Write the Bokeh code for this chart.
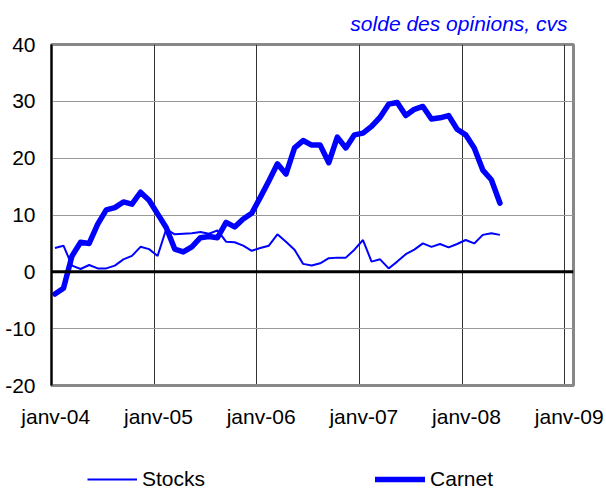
from bokeh.plotting import figure
from bokeh.models import FixedTicker, Span, Legend, LegendItem, ColumnDataSource
from bokeh.layouts import column
from bokeh.embed import file_html
from bokeh.resources import INLINE

# Monthly data, janv-04 (month 0) to mai-08 (month 52)
months = list(range(53))
carnet = [-3.9, -2.9, 2.8, 5.2, 5.0, 8.4, 10.9, 11.3, 12.3, 11.9, 14.0, 12.6,
          10.2, 7.8, 4.0, 3.5, 4.4, 6.0, 6.2, 6.0, 8.7, 7.9, 9.3, 10.3,
          13.1, 16.0, 19.0, 17.2, 21.8, 23.1, 22.3, 22.3, 19.2, 23.7, 21.8, 24.1,
          24.4, 25.6, 27.2, 29.5, 29.8, 27.5, 28.6, 29.1, 26.9, 27.1, 27.5, 25.1,
          24.1, 21.8, 17.9, 16.2, 12.1]
stocks = [4.2, 4.6, 1.1, 0.5, 1.2, 0.6, 0.6, 1.1, 2.2, 2.8, 4.4, 4.0,
          2.8, 7.5, 6.6, 6.7, 6.8, 7.0, 6.7, 7.3, 5.3, 5.2, 4.6, 3.7,
          4.2, 4.6, 6.6, 5.3, 3.9, 1.4, 1.1, 1.5, 2.4, 2.5, 2.5, 3.9,
          5.6, 1.8, 2.2, 0.6, 1.8, 3.1, 3.9, 5.0, 4.4, 4.9, 4.3, 4.9,
          5.6, 5.0, 6.5, 6.8, 6.5]
year_months = [0, 12, 24, 36, 48, 60]
year_labels = ["janv-04", "janv-05", "janv-06", "janv-07", "janv-08", "janv-09"]
y_ticks = [-20, -10, 0, 10, 20, 30, 40]
y_labels = ["-20", "-10", "0", "10", "20", "30", "40"]
series_names = ["Stocks", "Carnet"]

FONT = "Liberation Sans"
BLUE = "#0000FF"
FS = "21px"

xs = [m + 0.4 for m in months]
src = ColumnDataSource(dict(x=xs, carnet=carnet, stocks=stocks))

p = figure(width=606, height=452, output_backend="svg", toolbar_location=None,
           x_range=(0, 61), y_range=(-20, 40),
           min_border_left=51, min_border_right=33, min_border_top=44,
           min_border_bottom=67)

p.title.text = "solde des opinions, cvs"
p.title.align = "right"
p.title.text_color = BLUE
p.title.text_font = FONT
p.title.text_font_style = "italic"
p.title.text_font_size = FS
p.title.offset = 6
p.title.standoff = 19

p.outline_line_color = "#888888"
p.outline_line_width = 3
p.background_fill_color = "white"
p.border_fill_color = "white"

# axes
p.yaxis.ticker = FixedTicker(ticks=y_ticks)
p.yaxis.major_label_overrides = dict(zip(y_ticks, y_labels))
p.yaxis.major_tick_out = 0
p.yaxis.major_tick_in = 0
p.yaxis.minor_tick_out = 0
p.yaxis.minor_tick_in = 0
p.yaxis.axis_line_color = "black"
p.yaxis.axis_line_width = 2
p.yaxis.major_label_standoff = 16
p.yaxis.major_label_text_font = FONT
p.yaxis.major_label_text_font_size = FS
p.yaxis.major_label_text_color = "black"

p.xaxis.ticker = FixedTicker(ticks=[m + 0.5 for m in year_months])
p.xaxis.major_label_overrides = {m + 0.5: lab for m, lab in zip(year_months, year_labels)}
p.xaxis.major_tick_out = 0
p.xaxis.major_tick_in = 0
p.xaxis.minor_tick_out = 0
p.xaxis.minor_tick_in = 0
p.xaxis.axis_line_color = "#888888"
p.xaxis.axis_line_width = 3
p.xaxis.major_label_standoff = 19
p.xaxis.major_label_text_font = FONT
p.xaxis.major_label_text_font_size = FS
p.xaxis.major_label_text_color = "black"

p.ygrid.ticker = FixedTicker(ticks=[-10, 10, 20, 30])
p.ygrid.grid_line_color = "#999999"
p.ygrid.grid_line_width = 1
p.xgrid.ticker = FixedTicker(ticks=year_months)
p.xgrid.grid_line_color = "#333333"
p.xgrid.grid_line_width = 1

p.add_layout(Span(location=0, dimension="width", line_color="black", line_width=3))

p.line("x", "stocks", source=src, line_color=BLUE, line_width=2)
p.line("x", "carnet", source=src, line_color=BLUE, line_width=5.5,
       line_join="round", line_cap="round")

# legend strip below the chart (its lines lie outside its visible range)
p2 = figure(width=606, height=39, output_backend="svg", toolbar_location=None,
            x_range=(-3, -2), y_range=(-100, -99), x_axis_location=None,
            y_axis_location=None, min_border=0)
p2.outline_line_color = None
p2.xgrid.visible = False
p2.ygrid.visible = False
p2.background_fill_color = "white"
p2.border_fill_color = "white"
lg_stocks = p2.line("x", "stocks", source=src, line_color=BLUE, line_width=2)
lg_carnet = p2.line("x", "carnet", source=src, line_color=BLUE, line_width=5.5,
                    line_cap="round")

legend = Legend(items=[LegendItem(label=series_names[0], renderers=[lg_stocks]),
                       LegendItem(label=series_names[1], renderers=[lg_carnet])],
                orientation="horizontal", location=(36, 0),
                label_text_font=FONT, label_text_font_size=FS,
                label_text_color="black",
                glyph_width=50, label_standoff=5, spacing=170,
                padding=0, margin=0, border_line_alpha=0,
                background_fill_alpha=0)
p2.add_layout(legend, "center")

open("out.html", "w").write(file_html(column(p, p2), INLINE))
